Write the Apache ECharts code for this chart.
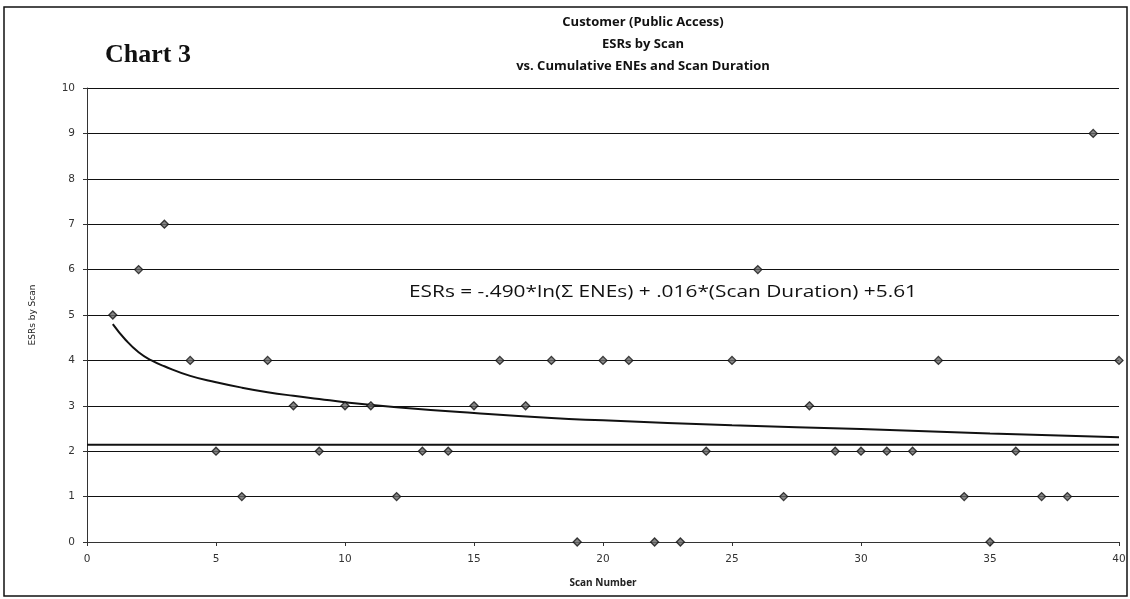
<!DOCTYPE html>
<html>
<head>
<meta charset="utf-8">
<script src="https://cdn.jsdelivr.net/npm/echarts@6/dist/echarts.min.js"></script>
<style>
html,body{margin:0;padding:0;background:#fff;}
#chart{width:1130px;height:599px;}
</style>
</head>
<body>
<div id="chart"></div>
<script>
// Scan numbers and ESRs per scan
const scanNumbers = [1,2,3,4,5,6,7,8,9,10,11,12,13,14,15,16,17,18,19,20,21,22,23,24,25,26,27,28,29,30,31,32,33,34,35,36,37,38,39,40];
const esrValues   = [5,6,7,4,2,1,4,3,2,3,3,1,2,2,3,4,3,4,0,4,4,0,0,2,4,6,1,3,2,2,2,2,4,1,0,2,1,1,9,4];
// Fitted curve
const fitX = [1,1.5,2,2.5,3,4,5,6,7,8,9,10,12,15,18,20,25,30,35,40];
const fitY = [4.8,4.45,4.18,4.0,3.87,3.66,3.52,3.4,3.3,3.22,3.15,3.08,2.97,2.84,2.73,2.68,2.57,2.49,2.39,2.31];
// Horizontal reference line
const refX = [0,40];
const refY = [2.14,2.14];
const xTicks = [0,5,10,15,20,25,30,35,40];
const yTicks = [0,1,2,3,4,5,6,7,8,9,10];
const equationText = 'ESRs = -.490*ln(Σ ENEs) + .016*(Scan Duration) +5.61';

// measure equation to stretch it to the reference width
const eqFont = '500 16px "Open Sans"';
const cv = document.createElement('canvas').getContext('2d');
cv.font = eqFont;
const eqW = cv.measureText(equationText).width || 390;
const eqScale = 508 / eqW;

const chart = echarts.init(document.getElementById('chart'));
const tickFont = {fontFamily:'DejaVu Sans', fontSize:10.5, color:'#333'};
chart.setOption({
  animation:false,
  backgroundColor:'#fff',
  title:{
    text:'Customer (Public Access)\nESRs by Scan\nvs. Cumulative ENEs and Scan Duration',
    left:638, top:6, textAlign:'center',
    textStyle:{fontFamily:'Open Sans', fontSize:13, fontWeight:'bold', color:'#111', lineHeight:22}
  },
  grid:{left:87, right:11, top:88, bottom:57, containLabel:false},
  xAxis:{
    type:'value', min:0, max:40, interval:5,
    name:'Scan Number', nameLocation:'middle', nameGap:36,
    nameTextStyle:{fontFamily:'Open Sans', fontSize:10, fontWeight:'bold', color:'#222'},
    axisLine:{show:true, onZero:false, lineStyle:{color:'#333', width:1}},
    axisTick:{show:true, length:4, lineStyle:{color:'#333'}},
    axisLabel:Object.assign({margin:12, formatter:v=>xTicks.includes(v)?String(v):''}, tickFont),
    splitLine:{show:false}
  },
  yAxis:{
    type:'value', min:0, max:10, interval:1,
    name:'ESRs by Scan', nameLocation:'middle', nameGap:50,
    nameTextStyle:{fontFamily:'DejaVu Sans', fontSize:9, color:'#222'},
    axisLine:{show:true, lineStyle:{color:'#333', width:1}},
    axisTick:{show:true, length:4, lineStyle:{color:'#333'}},
    axisLabel:Object.assign({margin:12, formatter:v=>yTicks.includes(v)?String(v):''}, tickFont),
    splitLine:{show:true, lineStyle:{color:'#111', width:1}}
  },
  graphic:[
    {type:'rect', shape:{x:4, y:7, width:1123, height:589}, style:{fill:'none', stroke:'#111', lineWidth:1.5}, silent:true},
    {type:'text', left:105, top:42, style:{text:'Chart 3', font:'bold 26px "Liberation Serif"', fill:'#111'}},
    {type:'text', x:409, y:292, scaleX:eqScale, style:{text:equationText, font:eqFont, fill:'#111', textVerticalAlign:'middle', verticalAlign:'middle'}}
  ],
  series:[
    {type:'line', data:refX.map((x,i)=>[x,refY[i]]), symbol:'none', lineStyle:{color:'#111', width:2}, z:2},
    {type:'line', data:fitX.map((x,i)=>[x,fitY[i]]), smooth:true, symbol:'none', lineStyle:{color:'#111', width:2}, z:3},
    {type:'scatter', data:scanNumbers.map((x,i)=>[x,esrValues[i]]), symbol:'diamond', symbolSize:8,
     itemStyle:{color:'#666', borderColor:'#111', borderWidth:1.3}, z:4}
  ]
});
</script>
</body>
</html>
